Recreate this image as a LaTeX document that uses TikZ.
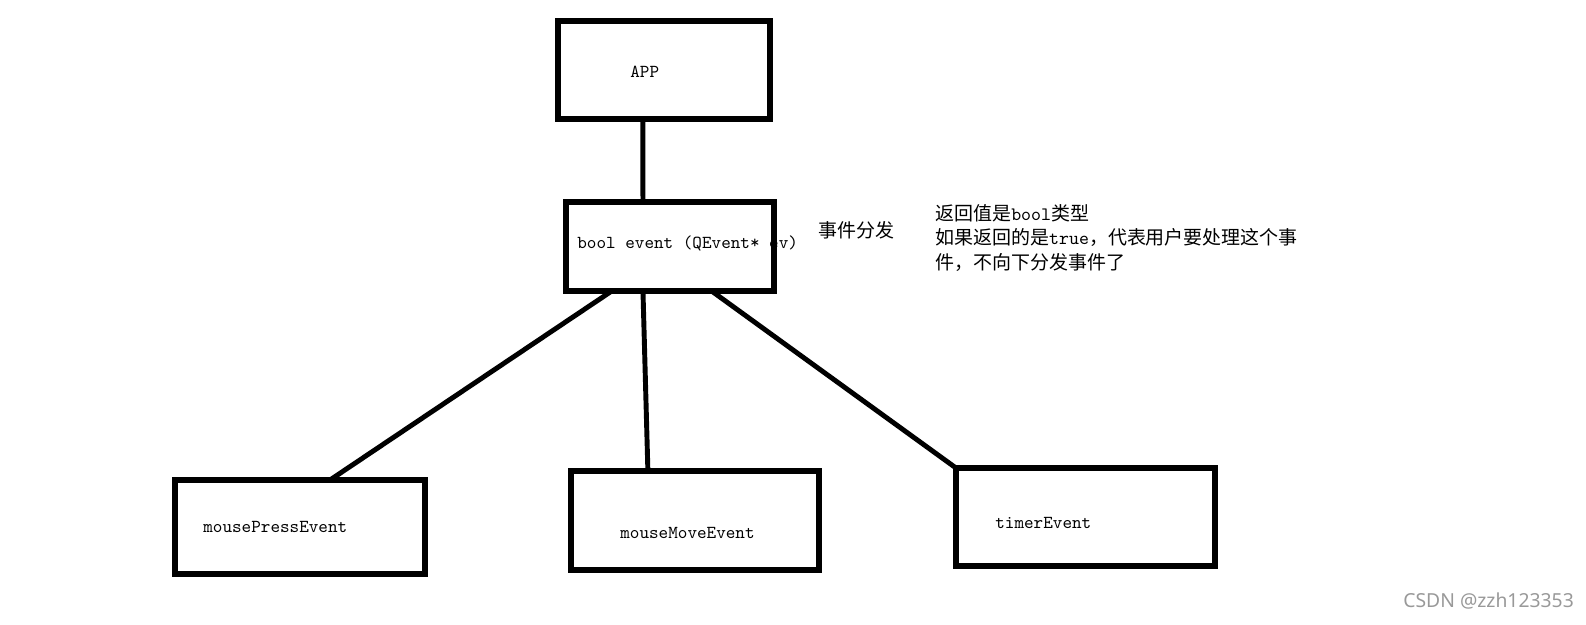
\documentclass[tikz,border=0pt]{standalone}
\usepackage{fontspec}
\newfontfamily\cjk{Noto Sans CJK SC}
\newfontfamily\wmfont{Noto Sans}
\usetikzlibrary{calc}

\begin{document}
\begin{tikzpicture}[x=.02cm,y=-.02cm,line cap=round,line join=miter,
    box/.style={draw,line width=3.2pt,inner sep=0pt,outer sep=0pt},
    wire/.style={line width=2.8pt},
    lbl/.style={anchor=west,inner sep=0pt,font=\fontsize{10.4}{12}\selectfont\ttfamily},
    note/.style={anchor=west,inner sep=0pt,align=left,font=\fontsize{10.8}{14.2}\selectfont\cjk}]
  \useasboundingbox (0,0) rectangle (1586,625);
  \node[lbl] (evttxt) at (577,243) {bool event (QEvent* ev)};
  \node[box,minimum width=4.24cm,minimum height=1.96cm] (app) at (664,70) {};
  \node[box,minimum width=4.16cm,minimum height=1.78cm] (evt) at (670,246.5) {};
  \node[box,minimum width=5.00cm,minimum height=1.88cm] (press) at (300,527) {};
  \node[box,minimum width=4.96cm,minimum height=1.98cm] (move) at (695,520.5) {};
  \node[box,minimum width=5.18cm,minimum height=1.96cm] (timer) at (1085.5,517) {};
  \node[lbl] (apptxt) at (630,72) {APP};
  \node[lbl] (presstxt) at (203,527) {mousePressEvent};
  \node[lbl] (movetxt) at (620,533) {mouseMoveEvent};
  \node[lbl] (timertxt) at (995,523) {timerEvent};
  \node[note] (dispatch) at (818,230) {事件分发};
  \node[note] (retnote) at (935,238)
    {返回值是{\ttfamily bool}类型\\
     如果返回的是{\ttfamily true}，代表用户要处理这个事\\
     件，不向下分发事件了};
  \draw[wire] ($(app.south west)!.40!(app.south east)$) -- ($(evt.north west)!.37!(evt.north east)$);
  \draw[wire] ($(evt.south west)!.22!(evt.south east)$) -- ($(press.north west)!.62!(press.north east)$);
  \draw[wire] ($(evt.south west)!.37!(evt.south east)$) -- ($(move.north west)!.31!(move.north east)$);
  \draw[wire] ($(evt.south west)!.70!(evt.south east)$) -- (timer.north west);
  \node[anchor=west,inner sep=0pt,text=black!40,font=\fontsize{11}{13}\selectfont\wmfont] (mark) at (1403,601) {CSDN @zzh123353};
\end{tikzpicture}
\end{document}
